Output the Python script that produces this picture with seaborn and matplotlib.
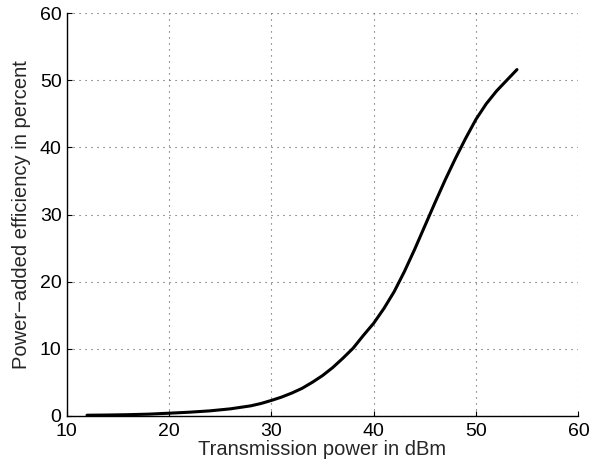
import numpy as np
import pandas as pd
import matplotlib
matplotlib.use("Agg")
import matplotlib.pyplot as plt
import seaborn as sns

# values
power_dbm = [12, 14, 16, 18, 20, 22, 24, 26, 28, 29, 30, 31, 32, 33, 34, 35, 36, 37, 38, 39,
             40, 41, 42, 43, 44, 45, 46, 47, 48, 49, 50, 51, 52, 53, 54]
pae_percent = [0.1, 0.13, 0.18, 0.26, 0.4, 0.55, 0.75, 1.05, 1.5, 1.85, 2.3, 2.8, 3.4, 4.1, 5.0,
               6.0, 7.2, 8.6, 10.1, 12.0, 13.8, 16.0, 18.5, 21.5, 24.8, 28.3, 31.8, 35.2, 38.4,
               41.4, 44.2, 46.5, 48.4, 50.0, 51.6]
x_ticks = [10, 20, 30, 40, 50, 60]
y_ticks = [0, 10, 20, 30, 40, 50, 60]

df = pd.DataFrame({"power": power_dbm, "pae": pae_percent})

sns.set_style("white")
plt.rcParams["font.family"] = ["Liberation Sans", "DejaVu Sans"]

fig = plt.figure(figsize=(5.89, 4.71), dpi=100)
ax = fig.add_axes([0.113, 0.117, 0.869, 0.855])

sns.lineplot(data=df, x="power", y="pae", color="black", linewidth=2.2, ax=ax)

ax.set_xlim(10, 60)
ax.set_ylim(0, 60)
ax.set_xticks(x_ticks)
ax.set_yticks(y_ticks)
# matlab style sparse dotted grid
ax.grid(True, linestyle=(0, (1, 4.4)), color="#555555", linewidth=0.8)

for side in ["top", "right"]:
    ax.spines[side].set_visible(False)
for side in ["left", "bottom"]:
    ax.spines[side].set_color("black")
    ax.spines[side].set_linewidth(1.0)

ax.tick_params(direction="in", length=3.6, width=0.8, labelsize=14, colors="black",
               bottom=True, left=True)
ax.tick_params(axis="x", pad=5.3)
ax.tick_params(axis="y", pad=3.6)
ax.set_xlabel("Transmission power in dBm", fontsize=14.5, labelpad=0)
ax.set_ylabel("Power\u2212added efficiency in percent", fontsize=14.5, labelpad=6)

fig.savefig("out.png", dpi=100)
